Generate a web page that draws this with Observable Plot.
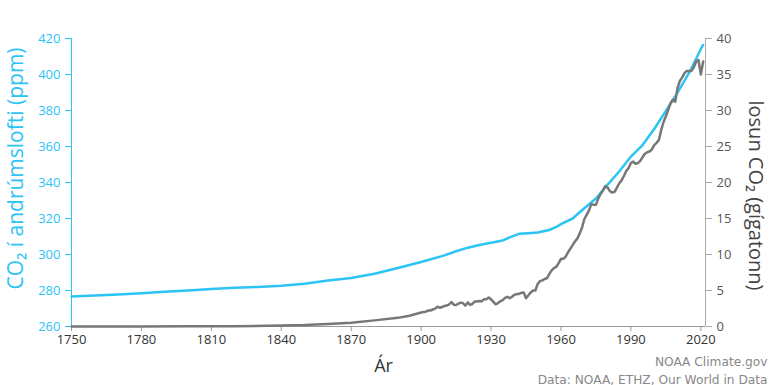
<!DOCTYPE html>
<html><head><meta charset="utf-8">
<script src="https://cdn.jsdelivr.net/npm/d3@7"></script>
<script src="https://cdn.jsdelivr.net/npm/@observablehq/plot@0.6"></script>
<style>body{margin:0;background:#fff}</style>
</head><body><div id="chart"></div>
<script>
// CO2 concentration in the atmosphere (ppm)
const co2Years = [1750,1760,1770,1780,1790,1800,1810,1820,1830,1840,1850,1860,1870,1880,1890,1900,1910,1915,1920,1925,1930,1935,1938,1942,1946,1950,1955,1958,1960,1965,1970,1975,1980,1985,1990,1995,2000,2005,2010,2015,2020,2021];
const co2Ppm   = [276.7,277.2,277.8,278.5,279.3,280.0,280.8,281.5,282.0,282.7,283.8,285.5,287.0,289.3,292.5,295.8,299.5,301.8,303.8,305.3,306.5,307.8,309.5,311.5,311.8,312.2,313.6,315.3,316.9,320.0,325.7,331.1,338.8,346.1,354.4,360.8,369.7,379.8,389.9,401.0,414.2,416.4];

// CO2 emissions (gigatons)
const emisYears = [1750,1780,1800,1820,1840,1850,1860,1870,1880,1890,1895,1900,1901,1902,1903,1904,1905,1906,1907,1908,1909,1910,1911,1912,1913,1914,1915,1916,1917,1918,1919,1920,1921,1922,1923,1924,1925,1926,1927,1928,1929,1930,1931,1932,1933,1934,1935,1936,1937,1938,1939,1940,1941,1942,1943,1944,1945,1946,1947,1948,1949,1950,1951,1952,1953,1954,1955,1956,1957,1958,1959,1960,1961,1962,1963,1964,1965,1966,1967,1968,1969,1970,1971,1972,1973,1974,1975,1976,1977,1978,1979,1980,1981,1982,1983,1984,1985,1986,1987,1988,1989,1990,1991,1992,1993,1994,1995,1996,1997,1998,1999,2000,2001,2002,2003,2004,2005,2006,2007,2008,2009,2010,2011,2012,2013,2014,2015,2016,2017,2018,2019,2020,2021];
const emisGt    = [0.01,0.013,0.028,0.044,0.13,0.2,0.36,0.53,0.85,1.2,1.5,1.95,2.01,2.05,2.21,2.22,2.36,2.48,2.74,2.61,2.7,2.86,2.91,3.07,3.38,3.03,2.98,3.17,3.31,3.22,2.9,3.35,3.01,3.13,3.48,3.47,3.55,3.52,3.78,3.78,4.02,3.77,3.41,3.08,3.27,3.52,3.66,3.97,4.13,3.93,4.14,4.4,4.5,4.52,4.68,4.72,3.93,4.35,4.71,5.0,5.0,5.9,6.3,6.4,6.6,6.7,7.3,7.8,8.1,8.3,8.8,9.4,9.4,9.7,10.3,10.8,11.3,11.8,12.2,12.9,13.7,14.9,15.5,16.1,17.0,16.9,16.9,17.8,18.4,18.9,19.5,19.3,18.8,18.6,18.7,19.3,19.9,20.3,20.9,21.6,22.0,22.7,22.9,22.6,22.7,23.0,23.5,24.0,24.2,24.3,24.6,25.2,25.5,25.9,27.3,28.4,29.2,30.1,31.0,31.5,31.2,33.1,34.1,34.6,35.2,35.5,35.5,35.5,36.0,36.8,37.0,35.0,36.8];

const xTicks   = [1750,1780,1810,1840,1870,1900,1930,1960,1990,2020];
const ppmTicks = [260,280,300,320,340,360,380,400,420];
const gtTicks  = [0,5,10,15,20,25,30,35,40];

const leftLabel  = "CO₂ í andrúmslofti (ppm)";
const rightLabel = "losun CO₂ (gígatonn)";
const xLabel     = "Ár";
const caption1   = "NOAA Climate.gov";
const caption2   = "Data: NOAA, ETHZ, Our World in Data";

const BLUE = "#2cc3f5", GRAY = "#777777";
// map gigatons (0–40) onto the ppm scale (260–420)
const toPpm = gt => 260 + gt * 4;
const fromPpm = p => (p - 260) / 4;

const co2 = co2Years.map((year, i) => ({year, v: co2Ppm[i]}));
const emis = emisYears.map((year, i) => ({year, v: toPpm(emisGt[i])}));

const chart = Plot.plot({
  width: 770, height: 385,
  marginLeft: 71, marginRight: 65, marginTop: 38, marginBottom: 59,
  style: {fontFamily: "'Open Sans', sans-serif", fontSize: "13px", background: "#fff", overflow: "visible"},
  x: {domain: [1750, 2022]},
  y: {domain: [260, 420]},
  marks: [
    Plot.axisX({ticks: xTicks, tickFormat: d => String(d), tickSize: 5, tickPadding: 3, stroke: "#999", fill: "#333", label: null}),
    Plot.axisY({ticks: ppmTicks, anchor: "left", tickSize: 6, tickPadding: 5, stroke: BLUE, fill: BLUE, label: null}),
    Plot.axisY({ticks: gtTicks.map(toPpm), anchor: "right", tickFormat: d => String(fromPpm(d)), tickSize: 6, tickPadding: 5, stroke: "#aaa", fill: "#555", label: null}),
    Plot.ruleX([1750], {stroke: BLUE}),
    Plot.ruleX([2022], {stroke: "#aaa"}),
    Plot.ruleY([260], {stroke: "#999"}),
    Plot.line(co2, {x: "year", y: "v", stroke: BLUE, strokeWidth: 2.5}),
    Plot.line(emis, {x: "year", y: "v", stroke: GRAY, strokeWidth: 2.5}),
    Plot.text([leftLabel], {frameAnchor: "left", textAnchor: "middle", rotate: -90, dx: -55, dy: -14, fill: BLUE, fontSize: 21, fontWeight: 500}),
    Plot.text([rightLabel], {frameAnchor: "right", textAnchor: "middle", rotate: 90, dx: 50, dy: 13, fill: "#444", fontSize: 20, fontWeight: 500}),
    Plot.text([xLabel], {frameAnchor: "bottom", dx: -5, dy: 45, fill: "#333", fontSize: 18}),
    Plot.text([caption1], {frameAnchor: "bottom-right", textAnchor: "end", dx: 62, dy: 39, fill: "#888", fontSize: 12.2, fontFamily: "'DejaVu Sans'"}),
    Plot.text([caption2], {frameAnchor: "bottom-right", textAnchor: "end", dx: 62, dy: 57, fill: "#888", fontSize: 12.2, fontFamily: "'DejaVu Sans'"})
  ]
});
document.getElementById("chart").append(chart);
</script>
</body></html>
